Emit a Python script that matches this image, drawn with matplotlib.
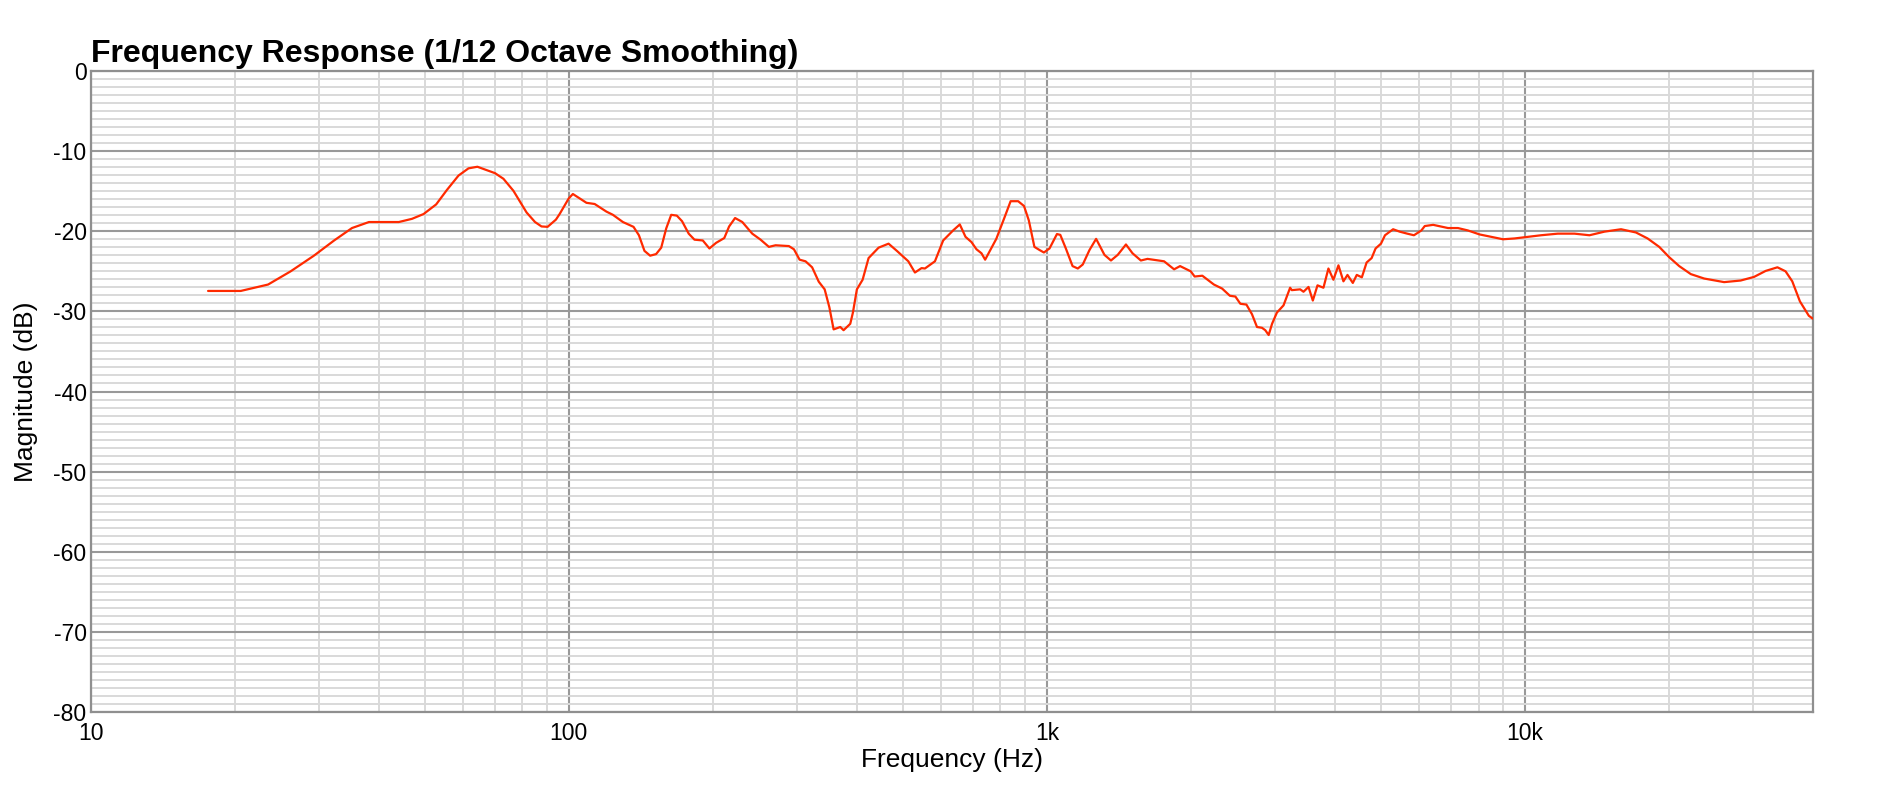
import matplotlib
matplotlib.use("Agg")
import matplotlib.pyplot as plt
from matplotlib.ticker import LogLocator, MultipleLocator, NullFormatter

plt.rcParams['font.family'] = ['Liberation Sans', 'DejaVu Sans']

# frequency response (Hz, dB)
freq_hz = [17.6, 20.6, 23.5, 26.2, 29.3, 32.3, 35.2, 38.2, 44.1, 47.0, 49.7, 52.8, 55.6, 58.8,
           61.7, 64.4, 70.1, 73.0, 76.6, 81.6, 85.0, 87.7, 90.3, 94.0, 95.7, 100.0, 102.0,
           108.9, 113.3, 119.9, 123.7, 129.8, 136.6, 140.2, 144.0, 148.0, 152.3, 156.1, 159.9,
           163.8, 168.3, 172.6, 178.2, 183.2, 190.7, 196.9, 203.3, 211.5, 216.5, 222.8, 230.7,
           242.0, 251.9, 262.2, 270.8, 288.7, 295.8, 304.0, 312.8, 322.9, 333.4, 343.0, 350.9,
           358.1, 369.8, 375.7, 388.0, 393.0, 400.6, 411.8, 423.8, 444.7, 466.6, 485.7, 513.2,
           529.8, 547.0, 555.9, 583.4, 607.0, 636.7, 657.6, 676.0, 695.6, 712.6, 730, 743, 765,
           784, 816, 840, 871, 896, 917, 942, 966, 986, 1013, 1050, 1067, 1096, 1132, 1161,
           1189, 1228, 1268, 1320, 1362, 1407, 1464, 1511, 1573, 1624, 1759, 1846, 1900, 2000,
           2038, 2115, 2236, 2326, 2415, 2480, 2540, 2615, 2686, 2752, 2819, 2864, 2911, 2959,
           3029, 3127, 3228, 3255, 3388, 3443, 3527, 3601, 3683, 3790, 3882, 3976, 4074, 4173,
           4255, 4366, 4450, 4560, 4666, 4780, 4872, 5000, 5098, 5301, 5472, 5675, 5861, 6074,
           6174, 6429, 6906, 7244, 7599, 8043, 8508, 9000, 9512, 9980, 10810, 11720, 12700,
           13650, 14670, 15890, 17070, 18060, 19100, 20050, 21030, 22240, 23710, 26110, 28270,
           30150, 31890, 33750, 35100, 36250, 37610, 39260, 40000]
mag_db = [-27.45, -27.45, -26.65, -25.0, -23.05, -21.15, -19.6, -18.85, -18.85, -18.45, -17.85,
          -16.65, -14.85, -13.05, -12.15, -11.95, -12.75, -13.45, -14.95, -17.65, -18.85, -19.4,
          -19.45, -18.55, -17.85, -15.9, -15.35, -16.45, -16.6, -17.55, -17.95, -18.85, -19.45,
          -20.5, -22.45, -23.05, -22.85, -22.05, -19.65, -17.95, -18.05, -18.75, -20.3, -21.05,
          -21.15, -22.15, -21.45, -20.85, -19.4, -18.35, -18.85, -20.3, -21.05, -21.95, -21.75,
          -21.85, -22.25, -23.55, -23.75, -24.5, -26.3, -27.25, -29.5, -32.25, -31.95, -32.35,
          -31.55, -30.15, -27.25, -26.05, -23.35, -22.05, -21.55, -22.45, -23.75, -25.15, -24.6,
          -24.65, -23.75, -21.15, -19.9, -19.15, -20.7, -21.35, -22.25, -22.75, -23.55, -22.15,
          -20.95, -18.25, -16.25, -16.25, -16.85, -18.65, -21.95, -22.35, -22.65, -22.15, -20.35,
          -20.45, -22.15, -24.35, -24.65, -24.15, -22.35, -20.95, -22.95, -23.65, -22.95, -21.65,
          -22.75, -23.65, -23.45, -23.75, -24.75, -24.35, -25.0, -25.65, -25.55, -26.65, -27.15,
          -28.05, -28.15, -29.05, -29.15, -30.35, -31.95, -32.05, -32.35, -32.95, -31.55, -30.15,
          -29.25, -27.05, -27.35, -27.25, -27.55, -26.95, -28.65, -26.75, -27.05, -24.65, -26.05,
          -24.25, -26.25, -25.45, -26.45, -25.45, -25.75, -23.9, -23.35, -22.15, -21.55, -20.5,
          -19.75, -20.05, -20.3, -20.5, -19.9, -19.35, -19.2, -19.6, -19.6, -19.9, -20.4, -20.7,
          -21.0, -20.9, -20.75, -20.5, -20.3, -20.3, -20.5, -20.05, -19.75, -20.15, -20.9, -21.95,
          -23.25, -24.35, -25.35, -25.9, -26.35, -26.15, -25.7, -24.95, -24.5, -25.0, -26.25,
          -28.75, -30.55, -30.9]

x_ticks = [10, 100, 1000, 10000]
x_tick_labels = ["10", "100", "1k", "10k"]
y_ticks = list(range(0, -81, -10))

W, H = 1878, 790
fig = plt.figure(figsize=(W / 100, H / 100), dpi=100)
ax = fig.add_axes([90.7 / W, 1 - 712 / H, (1812.7 - 90.7) / W, (712 - 71) / H])

ax.plot(freq_hz, mag_db, color="#ff2a00", lw=1.6, zorder=3,
        solid_joinstyle="round", solid_capstyle="round")

ax.set_xscale("log")
ax.set_xlim(10, 40000)
ax.set_ylim(-80, 0)
ax.set_xticks(x_ticks)
ax.set_xticklabels(x_tick_labels)
ax.xaxis.set_minor_locator(LogLocator(base=10, subs=range(2, 10), numticks=20))
ax.xaxis.set_minor_formatter(NullFormatter())
ax.set_yticks(y_ticks)
ax.set_yticklabels([str(v) for v in y_ticks])
ax.yaxis.set_minor_locator(MultipleLocator(1))

ax.grid(True, which="minor", color="#d9d9d9", lw=1.4, zorder=0)
ax.grid(True, which="major", color="#999999", lw=1.5, zorder=1)
ax.set_axisbelow(True)
ax.tick_params(which="both", length=0)
ax.tick_params(axis="x", labelsize=16.5, pad=7.5)
ax.tick_params(axis="y", labelsize=16.5, pad=3)
for s in ax.spines.values():
    s.set_color("#8f8f8f"); s.set_linewidth(1.6)

fig.text(91 / W, 1 - 62 / H, "Frequency Response (1/12 Octave Smoothing)",
         fontsize=23, fontweight="bold", ha="left", va="baseline")
fig.text(951.7 / W, 1 - 766.7 / H, "Frequency (Hz)", fontsize=19, ha="center", va="baseline")
fig.text(26 / W, 1 - 391.5 / H, "Magnitude (dB)", fontsize=19, rotation=90,
         ha="center", va="center")

fig.savefig("out.png", dpi=100)
